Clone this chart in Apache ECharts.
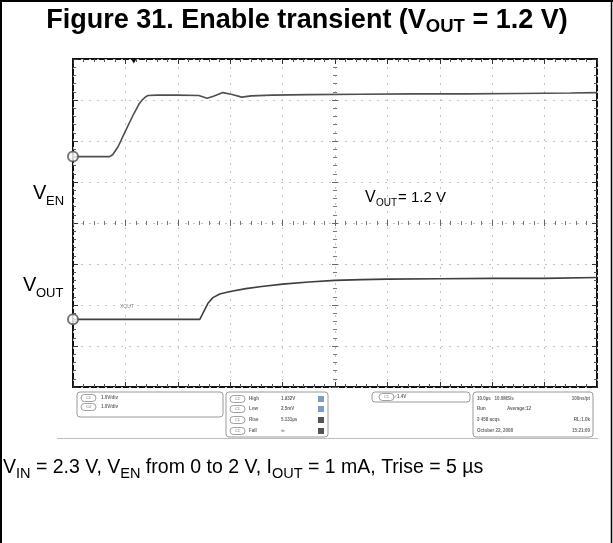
<!DOCTYPE html>
<html>
<head>
<meta charset="utf-8">
<title>Enable transient</title>
<script src="https://cdn.jsdelivr.net/npm/echarts@6/dist/echarts.min.js"></script>
<style>
  html, body { margin: 0; padding: 0; background: #fff; }
  #chart { width: 613px; height: 543px; }
</style>
</head>
<body>
<div id="chart"></div>
<script>
// time base 10 us/div, 1 V/div on both channels
var timeTicks = [0, 10, 20, 30, 40, 50, 60, 70, 80, 90, 100];

// C1 = V_EN (time in us, volts)
var venTime = [0, 7.0, 7.6, 8.6, 10, 11.5, 12.6, 13.2, 13.8, 14.3, 16, 20, 24, 25.6, 26.8, 28.6, 30.2, 32.2, 34, 38, 45, 55, 65, 75, 85, 95, 100];
var venVolt = [0, 0, 0.05, 0.24, 0.62, 1.02, 1.28, 1.38, 1.45, 1.49, 1.5, 1.5, 1.49, 1.42, 1.47, 1.56, 1.52, 1.45, 1.48, 1.5, 1.51, 1.52, 1.53, 1.53, 1.54, 1.55, 1.56];
var venOffset = 5.62;   // ground marker position, divisions from bottom

// C4 = V_OUT
var voutTime = [0, 10, 20, 24.2, 25, 25.8, 26.7, 28, 30, 33, 36, 40, 45, 50, 55, 60, 70, 80, 90, 100];
var voutVolt = [0, 0, 0, 0, 0.2, 0.4, 0.53, 0.62, 0.68, 0.75, 0.8, 0.86, 0.91, 0.95, 0.97, 0.98, 0.99, 1.0, 1.0, 1.02];
var voutOffset = 1.65;

var voltsPerDiv = 1.0;
var triggerTime = 11.6;

function toDiv(times, volts, offset) {
  var out = [];
  for (var i = 0; i < times.length; i++) {
    out.push([times[i], volts[i] / voltsPerDiv + offset]);
  }
  return out;
}

var FONT = '"Liberation Sans", Arial, sans-serif';
var G = { left: 73, top: 59, width: 524, height: 328 };

function xAx(extra) {
  var a = {
    type: 'value', min: timeTicks[0], max: timeTicks[timeTicks.length - 1], interval: 10,
    axisLine: { show: false, onZero: false },
    axisTick: { show: true, inside: true, length: 5, lineStyle: { color: '#333' } },
    minorTick: { show: true, splitNumber: 5, length: 3, lineStyle: { color: '#555' } },
    axisLabel: { show: false },
    splitLine: { show: false }
  };
  for (var k in extra) a[k] = extra[k];
  return a;
}
function yAx(extra) {
  var a = {
    type: 'value', min: 0, max: 8, interval: 1,
    axisLine: { show: false, onZero: false },
    axisTick: { show: true, inside: true, length: 5, lineStyle: { color: '#333' } },
    minorTick: { show: true, splitNumber: 5, length: 3, lineStyle: { color: '#555' } },
    axisLabel: { show: false },
    splitLine: { show: false }
  };
  for (var k in extra) a[k] = extra[k];
  return a;
}

var dotted = { show: true, lineStyle: { color: '#c4c4c4', type: [2, 6], width: 1 } };

function txt(x, y, s, size, opts) {
  var st = { x: x, y: y, text: s, fill: '#000', font: (opts && opts.weight ? opts.weight + ' ' : '') + size + 'px ' + FONT,
             textAlign: (opts && opts.align) || 'left', textVerticalAlign: 'middle' };
  if (opts && opts.fill) st.fill = opts.fill;
  return { type: 'text', z: 10, style: st };
}
function pill(x, y, label) {
  return [
    { type: 'rect', z: 10, shape: { x: x, y: y - 3.5, width: 15, height: 7, r: 3.5 }, style: { fill: '#fff', stroke: '#888', lineWidth: 0.8 } },
    txt(x + 7.5, y, label, 4, { align: 'center', fill: '#777' })
  ];
}
function box(x, y, w, h) {
  return { type: 'rect', z: 9, shape: { x: x, y: y, width: w, height: h, r: 3 }, style: { fill: 'none', stroke: '#9a9a9a', lineWidth: 1 } };
}

var small = { fill: '#666', weight: 'bold' };
var graphics = [
  // frame
  { type: 'line', shape: { x1: 1, y1: 0, x2: 1, y2: 543 }, style: { stroke: '#000', lineWidth: 2 } },
  { type: 'line', shape: { x1: 0, y1: 1, x2: 613, y2: 1 }, style: { stroke: '#000', lineWidth: 2 } },
  { type: 'line', shape: { x1: 611.5, y1: 0, x2: 611.5, y2: 543 }, style: { stroke: '#000', lineWidth: 1.5 } },
  // title
  { type: 'text', z: 10, style: {
      x: 307, y: 21, textAlign: 'center', textVerticalAlign: 'middle',
      text: '{b|Figure 31. Enable transient (V}{s|OUT}{b| = 1.2 V)}',
      rich: {
        b: { fontSize: 27, fontWeight: 'bold', fontFamily: FONT, fill: '#000', lineHeight: 30 },
        s: { fontSize: 18.5, fontWeight: 'bold', fontFamily: FONT, fill: '#000', lineHeight: 18, verticalAlign: 'bottom' }
      } } },
  // channel labels
  txt(33, 193, 'V', 20), txt(46, 201, 'EN', 13),
  txt(23, 285, 'V', 20), txt(36, 293, 'OUT', 13),
  txt(365, 198, 'V', 16), txt(376, 203, 'OUT', 10), txt(398, 198, '= 1.2 V', 15),
  txt(120, 307, 'XOUT', 5, { fill: '#888' }),
  // separator under the scope panel
  { type: 'line', shape: { x1: 57, y1: 438.5, x2: 598, y2: 438.5 }, style: { stroke: '#bdbdbd', lineWidth: 1 } },
  box(77, 392, 146, 25), box(226, 392, 102, 45), box(372, 392, 98, 10), box(473, 392, 120, 45),
  txt(101, 398, '1.0V/div', 4.5, small), txt(101, 407, '1.0V/div', 4.5, small),
  txt(249, 399, 'High', 4.5, small), txt(281, 399, '1.932V', 4.5, small),
  txt(249, 409, 'Low', 4.5, small), txt(281, 409, '2.5mV', 4.5, small),
  txt(249, 420, 'Rise', 4.5, small), txt(281, 420, '5.131µs', 4.5, small),
  txt(249, 431, 'Fall', 4.5, small), txt(281, 431, '∞', 5, small),
  txt(395, 397, '∕ 1.4V', 4.5, small),
  txt(477, 399, '10.0µs   10.0MS/s', 4.5, small), txt(590, 399, '100ns/pt', 4.5, { fill: '#666', weight: 'bold', align: 'right' }),
  txt(477, 409, 'Run', 4.5, small), txt(507, 409, 'Average:12', 4.5, small),
  txt(477, 420, '3 458 acqs', 4.5, small), txt(590, 420, 'RL:1.0k', 4.5, { fill: '#666', weight: 'bold', align: 'right' }),
  txt(477, 431, 'October 22, 2008', 4.5, small), txt(590, 431, '15:21:00', 4.5, { fill: '#666', weight: 'bold', align: 'right' }),
  // caption
  { type: 'text', z: 10, style: {
      x: 3, y: 468, textAlign: 'left', textVerticalAlign: 'middle',
      text: '{m|V}{s|IN}{m| = 2.3 V, V}{s|EN}{m| from 0 to 2 V, I}{s|OUT}{m| = 1 mA, Trise = 5 µs}',
      rich: {
        m: { fontSize: 19.5, fontFamily: FONT, fill: '#000', lineHeight: 26 },
        s: { fontSize: 14.5, fontFamily: FONT, fill: '#000', lineHeight: 14, verticalAlign: 'bottom' }
      } } }
];
[[81, 398, 'C1'], [81, 407, 'C4'], [230, 399, 'C1'], [230, 409, 'C1'], [230, 420, 'C1'], [230, 431, 'C1'], [379, 397, 'C1']].forEach(function (p) {
  graphics = graphics.concat(pill(p[0], p[1], p[2]));
});
[[318, 396, '#7d9cc6'], [318, 406, '#7d9cc6'], [318, 417, '#555'], [318, 428, '#555']].forEach(function (p) {
  graphics.push({ type: 'rect', z: 10, shape: { x: p[0], y: p[1], width: 6, height: 6 }, style: { fill: p[2] } });
});

var chart = echarts.init(document.getElementById('chart'), null, { renderer: 'canvas' });
chart.setOption({
  animation: false,
  backgroundColor: '#fff',
  grid: { left: G.left, top: G.top, width: G.width, height: G.height, show: true, borderColor: '#111', borderWidth: 2, backgroundColor: 'transparent' },
  xAxis: [
    xAx({ position: 'bottom', splitLine: dotted }),
    xAx({ position: 'top' }),
    xAx({ position: 'bottom', offset: -G.height / 2, axisTick: { show: true, inside: true, length: 3, lineStyle: { color: '#666' } }, minorTick: { show: true, splitNumber: 5, length: 2, lineStyle: { color: '#777' } } }),
    xAx({ position: 'bottom', offset: -G.height / 2, axisTick: { show: true, inside: false, length: 3, lineStyle: { color: '#666' } }, minorTick: { show: true, splitNumber: 5, length: 2, lineStyle: { color: '#777' } } })
  ],
  yAxis: [
    yAx({ position: 'left', splitLine: dotted }),
    yAx({ position: 'right' }),
    yAx({ position: 'left', offset: -G.width / 2, axisTick: { show: true, inside: true, length: 3, lineStyle: { color: '#666' } }, minorTick: { show: true, splitNumber: 5, length: 2, lineStyle: { color: '#777' } } }),
    yAx({ position: 'left', offset: -G.width / 2, axisTick: { show: true, inside: false, length: 3, lineStyle: { color: '#666' } }, minorTick: { show: true, splitNumber: 5, length: 2, lineStyle: { color: '#777' } } })
  ],
  series: [
    {
      name: 'VEN', type: 'line', data: toDiv(venTime, venVolt, venOffset),
      showSymbol: false, lineStyle: { color: '#4f4f4f', width: 1.6 }, z: 5,
      markPoint: {
        symbol: 'triangle', symbolSize: [6, 5], symbolRotate: 180, symbolOffset: [0, 2],
        itemStyle: { color: '#111' }, label: { show: false },
        data: [{ coord: [triggerTime, 8] }]
      }
    },
    {
      name: 'VOUT', type: 'line', data: toDiv(voutTime, voutVolt, voutOffset),
      showSymbol: false, lineStyle: { color: '#3f3f3f', width: 1.6 }, z: 5
    },
    {
      name: 'ground', type: 'scatter', clip: false, z: 6,
      data: [[0, venOffset], [0, voutOffset]],
      symbol: 'emptyCircle', symbolSize: 10,
      itemStyle: { color: '#555', borderColor: '#555', borderWidth: 1.5 }
    }
  ],
  graphic: graphics
});
</script>
</body>
</html>
